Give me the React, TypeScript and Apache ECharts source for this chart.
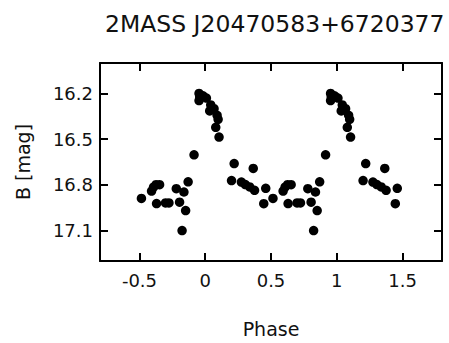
import React, { useEffect, useRef } from "react";
import * as echarts from "echarts";

const titleText = "2MASS J20470583+6720377";
const xName = "Phase";
const yName = "B [mag]";
const xTicks = [-0.5, 0, 0.5, 1, 1.5];
const yTicks = [16.2, 16.5, 16.8, 17.1];

// base phased observations (phase in [-0.5, 0.5))
const phase = [
  -0.485, -0.408, -0.393, -0.374, -0.347, -0.37, -0.302, -0.276, -0.22, -0.195,
  -0.162, -0.149, -0.176, -0.13, -0.085,
  -0.047, -0.042, -0.047, -0.017, 0.009, 0.042, 0.034, 0.067, 0.09, 0.098, 0.08, 0.105,
  0.22, 0.2, 0.275, 0.305, 0.365, 0.338, 0.375, 0.46, 0.445,
];
const mag = [
  16.889, 16.841, 16.815, 16.799, 16.799, 16.923, 16.919, 16.919, 16.825, 16.914,
  16.847, 16.969, 17.1, 16.78, 16.603,
  16.2, 16.222, 16.247, 16.215, 16.23, 16.275, 16.315, 16.3, 16.343, 16.37, 16.422, 16.486,
  16.66, 16.772, 16.782, 16.798, 16.692, 16.814, 16.836, 16.823, 16.924,
];

const FONT = "DejaVu Sans";
const TXT = "#111";

export default function App() {
  const ref = useRef<HTMLDivElement>(null);
  useEffect(() => {
    if (!ref.current) return;
    const chart = echarts.init(ref.current, undefined, { renderer: "svg" });
    const pts: number[][] = [];
    phase.forEach((p, i) => pts.push([p, mag[i]]));
    phase.forEach((p, i) => pts.push([p + 1, mag[i]]));
    const tickCommon = {
      show: true,
      inside: true,
      length: 8,
      lineStyle: { color: "#000", width: 2 },
    };
    const lineCommon = { show: true, onZero: false, lineStyle: { color: "#000", width: 2 } };
    chart.setOption({
      animation: false,
      backgroundColor: "#fff",
      title: {
        text: titleText,
        left: 100,
        top: 7,
        textStyle: { fontFamily: FONT, fontSize: 23.5, fontWeight: "normal", color: TXT },
      },
      grid: { left: 100, right: 7, top: 63, bottom: 76 },
      xAxis: [
        {
          type: "value",
          min: -0.8,
          max: 1.8,
          name: xName,
          nameLocation: "middle",
          nameGap: 58,
          nameTextStyle: { fontFamily: FONT, fontSize: 19, color: TXT },
          axisLine: lineCommon,
          axisTick: { ...tickCommon, customValues: xTicks },
          axisLabel: {
            customValues: xTicks,
            margin: 10,
            fontFamily: FONT,
            fontSize: 18,
            color: TXT,
          },
          splitLine: { show: false },
        },
        {
          type: "value",
          position: "top",
          min: -0.8,
          max: 1.8,
          axisLine: lineCommon,
          axisTick: { ...tickCommon, customValues: xTicks },
          axisLabel: { show: false },
          splitLine: { show: false },
        },
      ],
      yAxis: [
        {
          type: "value",
          inverse: true,
          min: 16.0,
          max: 17.3,
          name: yName,
          nameLocation: "middle",
          nameGap: 68,
          nameRotate: 90,
          nameTextStyle: { fontFamily: FONT, fontSize: 19, color: TXT },
          axisLine: lineCommon,
          axisTick: { ...tickCommon, customValues: yTicks },
          axisLabel: {
            customValues: yTicks,
            margin: 7,
            fontFamily: FONT,
            fontSize: 18,
            color: TXT,
            formatter: (v: number) => v.toFixed(1),
          },
          splitLine: { show: false },
        },
        {
          type: "value",
          position: "right",
          inverse: true,
          min: 16.0,
          max: 17.3,
          axisLine: lineCommon,
          axisTick: { ...tickCommon, customValues: yTicks },
          axisLabel: { show: false },
          splitLine: { show: false },
        },
      ],
      series: [
        {
          type: "scatter",
          xAxisIndex: 0,
          yAxisIndex: 0,
          data: pts,
          symbol: "circle",
          symbolSize: 9.5,
          itemStyle: { color: "#000", opacity: 1 },
        },
      ],
    });
    return () => chart.dispose();
  }, []);
  return (
    <div
      ref={ref}
      style={{ position: "absolute", left: 0, top: 0, width: 449, height: 343 }}
    />
  );
}
